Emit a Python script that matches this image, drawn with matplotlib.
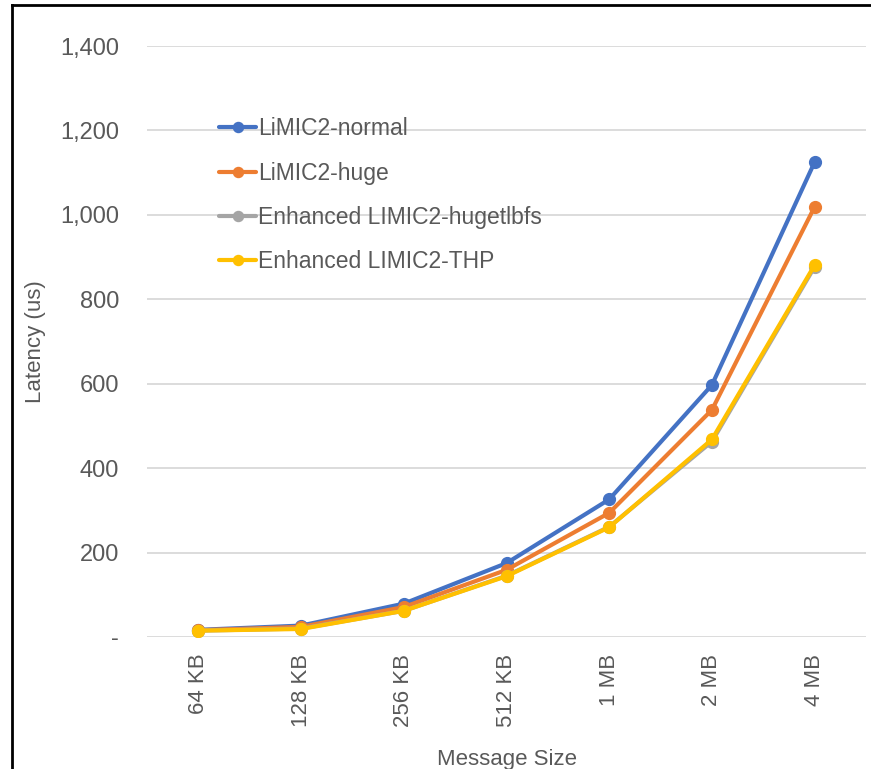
import matplotlib
matplotlib.use("Agg")
import matplotlib.pyplot as plt
from matplotlib.ticker import FuncFormatter
from matplotlib.lines import Line2D

categories = ["64 KB", "128 KB", "256 KB", "512 KB", "1 MB", "2 MB", "4 MB"]
normal = [17, 27, 79, 175, 326, 597, 1125]
huge = [16, 24, 71, 159, 294, 538, 1019]
hugetlbfs = [15, 20, 62, 145, 261, 463, 877]
thp = [15, 19, 62, 144, 260, 468, 881]
series_names = ["LiMIC2-normal", "LiMIC2-huge", "Enhanced LIMIC2-hugetlbfs", "Enhanced LIMIC2-THP"]
colors = ["#4472C4", "#ED7D31", "#A5A5A5", "#FFC000"]

plt.rcParams['font.family'] = ['Liberation Sans', 'DejaVu Sans']

fig = plt.figure(figsize=(8.71, 7.69), dpi=100)
ax = fig.add_axes([147/871, 1-637/769, (866-147)/871, (637-46)/769])

x = list(range(len(categories)))
for vals, name, c in zip([normal, huge, hugetlbfs, thp], series_names, colors):
    ax.plot(x, vals, color=c, lw=3, marker='o', ms=8.5, label=name,
            solid_capstyle='round', solid_joinstyle='round')

ax.set_xlim(-0.5, len(categories)-0.5)
ax.set_ylim(0, 1400)
ax.set_yticks(range(0, 1401, 200))
ax.yaxis.set_major_formatter(FuncFormatter(lambda v, p: "-" if v == 0 else f"{int(v):,}"))
ax.set_xticks(x)
ax.set_xticklabels(categories, rotation=90)
ax.tick_params(axis='x', length=0, labelsize=16, colors='#595959', pad=12)
ax.tick_params(axis='y', length=0, labelsize=17, colors='#595959', pad=20)
ax.grid(axis='y', color='#D9D9D9', lw=1.3)
ax.set_axisbelow(True)
for s in ax.spines.values():
    s.set_visible(False)

ax.set_ylabel("Latency (us)", fontsize=16, color='#595959')
ax.yaxis.set_label_coords((46-147)/719, 0.5)
ax.set_xlabel("Message Size", fontsize=16, color='#595959', labelpad=16)

leg = ax.legend(loc='upper left', bbox_to_anchor=(208/871, 1-106/769),
                bbox_transform=fig.transFigure, frameon=False, fontsize=16.5,
                handlelength=1.6, handletextpad=0.1, labelspacing=0.92, borderpad=0,
                markerscale=0.85)
for t in leg.get_texts():
    t.set_color('#595959')

# outer border (left and top)
fig.add_artist(Line2D([12/871, 12/871], [0, 1-5/769], transform=fig.transFigure, color='black', lw=2))
fig.add_artist(Line2D([12/871, 1], [1-5/769, 1-5/769], transform=fig.transFigure, color='black', lw=2))

fig.savefig("out.png", dpi=100)
